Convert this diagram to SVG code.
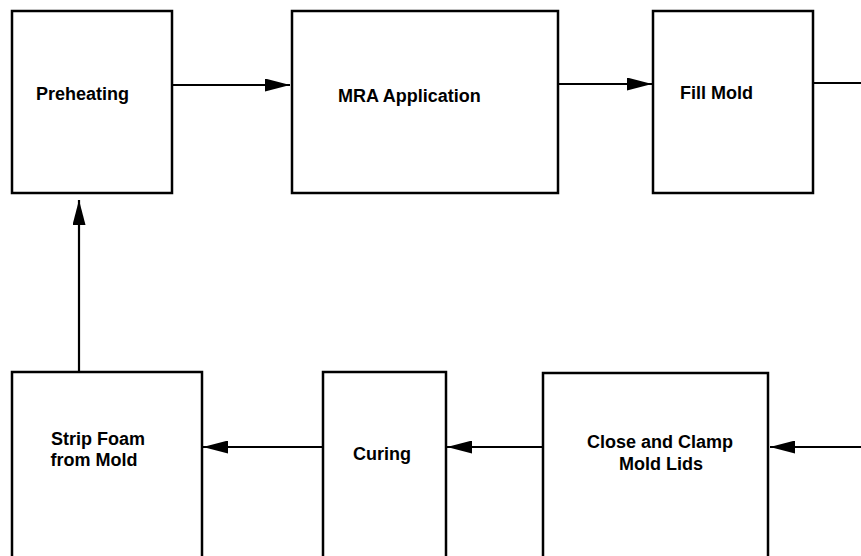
<svg xmlns="http://www.w3.org/2000/svg" width="861" height="556" viewBox="0 0 861 556">
<style>
.box{fill:#fff;stroke:#000;stroke-width:2.5}
.lbl{font-family:"Liberation Sans",Arial,sans-serif;font-size:18px;font-weight:bold;fill:#000}
.c{fill:none;stroke:#000;stroke-width:2.2}
</style>
<defs>
<marker id="ah" viewBox="0 0 25 13" refX="25" refY="6.5" markerWidth="25" markerHeight="13" markerUnits="userSpaceOnUse" orient="auto">
<path d="M0,0 L25,6.5 L0,13 Z" fill="#000"/>
</marker>
</defs>
<rect width="861" height="556" fill="#fff"/>
<g id="connectors">
<line class="c" x1="172" y1="85" x2="290" y2="85" marker-end="url(#ah)"/>
<line class="c" x1="558" y1="84" x2="652" y2="84" marker-end="url(#ah)"/>
<line class="c" x1="813" y1="83" x2="861" y2="83"/>
<line class="c" x1="861" y1="447" x2="770" y2="447" marker-end="url(#ah)"/>
<line class="c" x1="543" y1="447" x2="447" y2="447" marker-end="url(#ah)"/>
<line class="c" x1="323" y1="447" x2="203" y2="447" marker-end="url(#ah)"/>
<line class="c" x1="79" y1="372" x2="79" y2="200" marker-end="url(#ah)"/>
</g>
<g id="preheating">
<rect class="box" x="12" y="11" width="160" height="182"/>
<text class="lbl" x="36" y="100">Preheating</text>
</g>
<g id="mra">
<rect class="box" x="292" y="11" width="266" height="182"/>
<text class="lbl" x="338" y="102">MRA Application</text>
</g>
<g id="fillmold">
<rect class="box" x="653" y="11" width="160" height="182"/>
<text class="lbl" x="680" y="99">Fill Mold</text>
</g>
<g id="strip">
<rect class="box" x="12" y="372" width="190" height="200"/>
<text class="lbl" x="98" y="445" text-anchor="middle">Strip Foam</text>
<text class="lbl" x="94" y="466" text-anchor="middle">from Mold</text>
</g>
<g id="curing">
<rect class="box" x="323" y="372" width="123" height="200"/>
<text class="lbl" x="353" y="460">Curing</text>
</g>
<g id="close">
<rect class="box" x="543" y="373" width="225" height="200"/>
<text class="lbl" x="660" y="448" text-anchor="middle">Close and Clamp</text>
<text class="lbl" x="661" y="470" text-anchor="middle">Mold Lids</text>
</g>
</svg>
